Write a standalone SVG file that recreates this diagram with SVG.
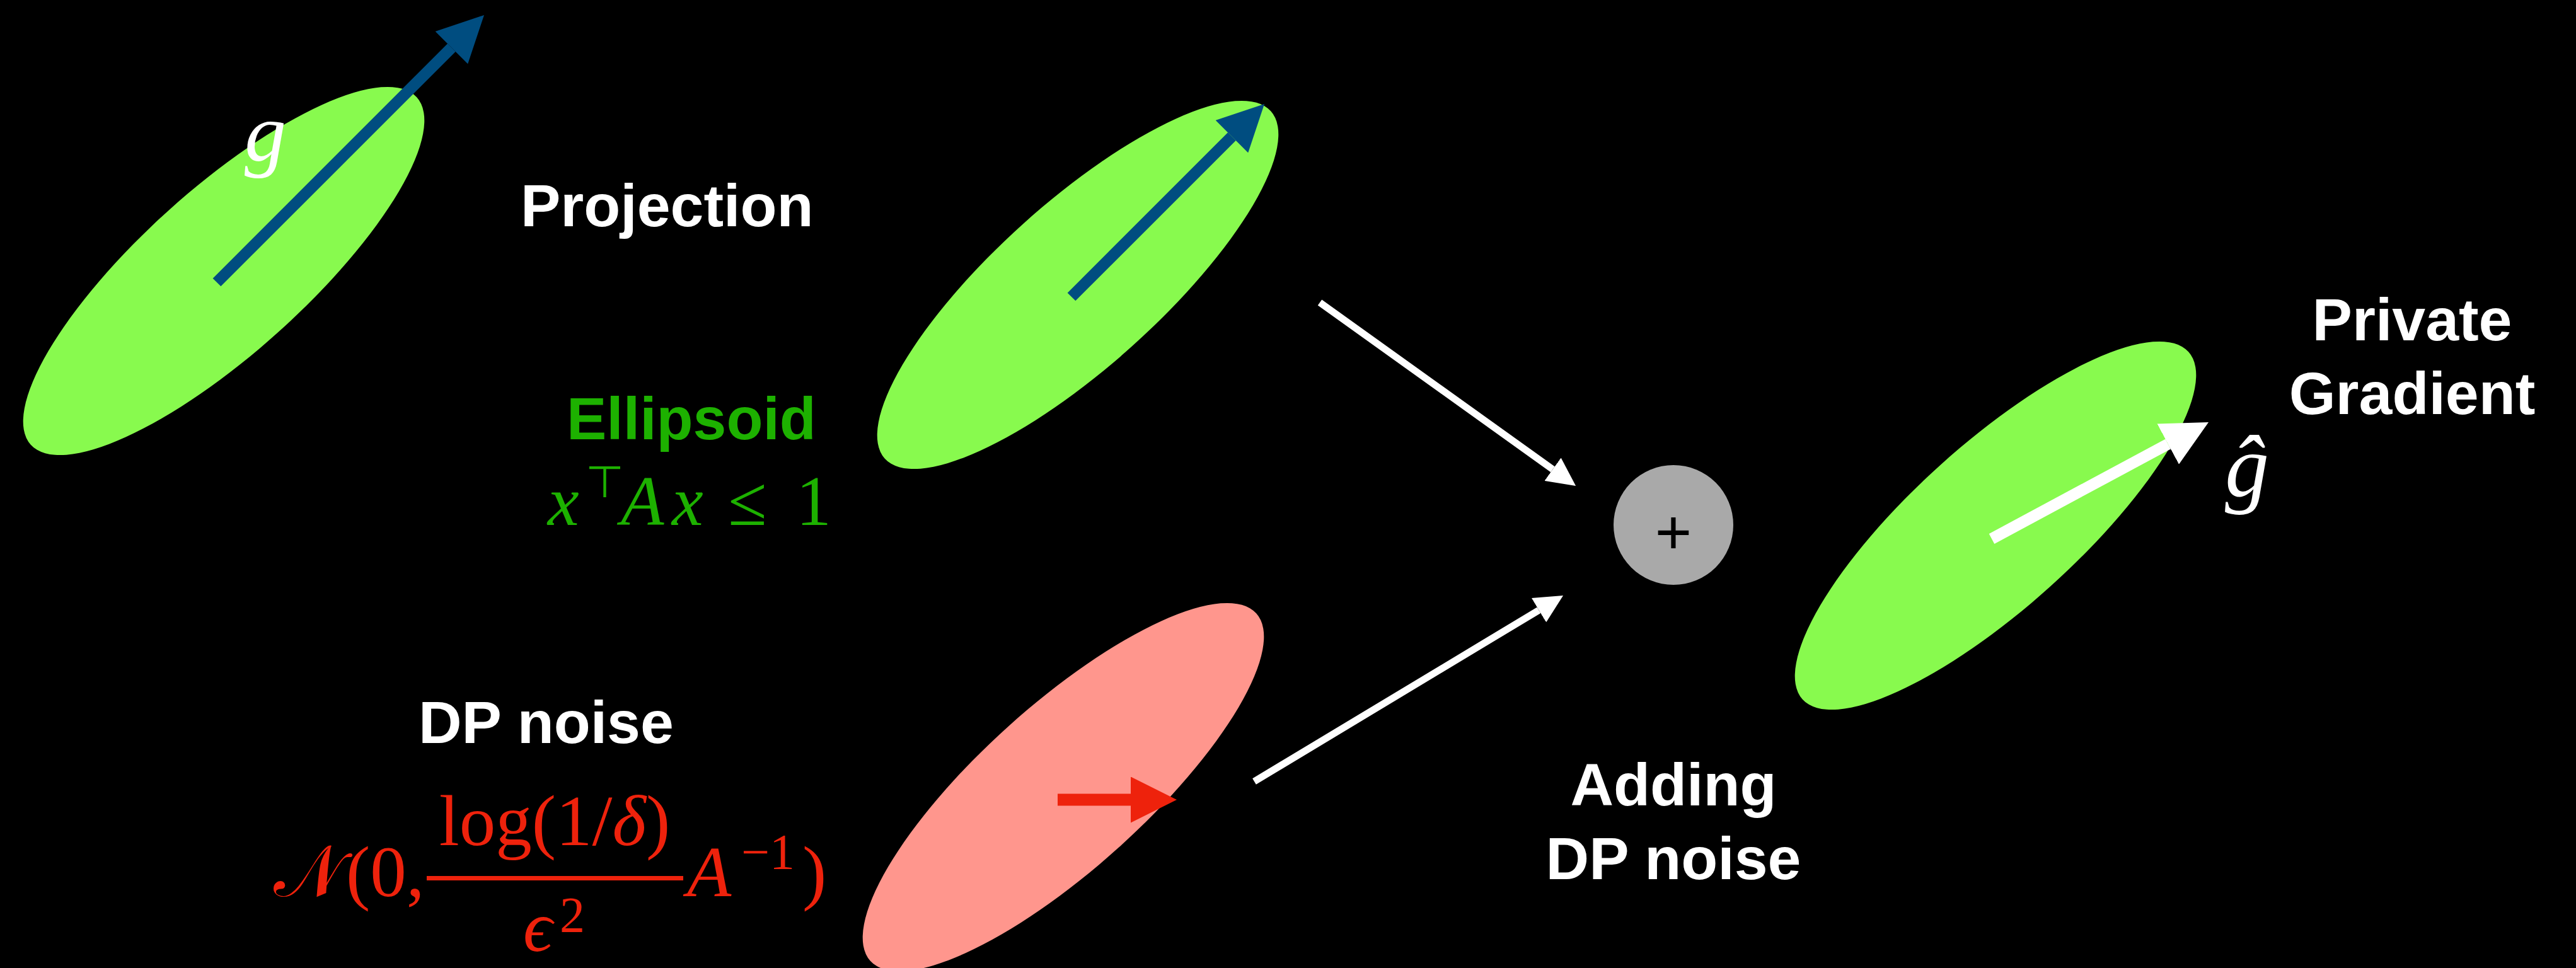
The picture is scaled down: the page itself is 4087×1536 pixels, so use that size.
<svg xmlns="http://www.w3.org/2000/svg" width="4087" height="1536" viewBox="0 0 4087 1536">
<style>
.lbl{font-family:"Liberation Sans",Arial,sans-serif;font-weight:bold;font-size:95px;fill:#FFFFFF}
.math{font-family:"Liberation Serif","DejaVu Serif",serif}
.it{font-style:italic}
.green-fill{fill:#88FA4E}
.red-fill{fill:#FF968D}
.wline{stroke:#FFFFFF;stroke-width:11;fill:none}
.wthick{stroke:#FFFFFF;stroke-width:18;fill:none}
.bline{stroke:#004D80;stroke-width:18;fill:none}
.rline{stroke:#EE220C;stroke-width:19;fill:none}
</style>
<defs>
<marker id="mW" viewBox="0 0 45 45" refX="0" refY="22.5" markerWidth="45" markerHeight="45" markerUnits="userSpaceOnUse" orient="auto"><path d="M0,0 L45,22.5 L0,45 Z" fill="#FFFFFF"/></marker>
<marker id="mWL" viewBox="0 0 73 73" refX="0" refY="36.5" markerWidth="73" markerHeight="73" markerUnits="userSpaceOnUse" orient="auto"><path d="M0,0 L73,36.5 L0,73 Z" fill="#FFFFFF"/></marker>
<marker id="mB" viewBox="0 0 73 73" refX="0" refY="36.5" markerWidth="73" markerHeight="73" markerUnits="userSpaceOnUse" orient="auto"><path d="M0,0 L73,36.5 L0,73 Z" fill="#004D80"/></marker>
<marker id="mR" viewBox="0 0 73 73" refX="0" refY="36.5" markerWidth="73" markerHeight="73" markerUnits="userSpaceOnUse" orient="auto"><path d="M0,0 L73,36.5 L0,73 Z" fill="#EE220C"/></marker>
</defs>
<rect x="0" y="0" width="4087" height="1536" fill="#000000"/>

<g id="gradient-ellipse">
<ellipse class="green-fill" cx="355" cy="430" rx="412" ry="130" transform="rotate(-42 355 430)"/>
<line class="bline" x1="344" y1="448" x2="716.4" y2="75.6" marker-end="url(#mB)"/>
<text class="math it" x="388" y="255" font-size="132" fill="#FFFFFF">g</text>
</g>

<g id="projection-label">
<text class="lbl" x="826" y="359">Projection</text>
</g>

<g id="projected-ellipse">
<ellipse class="green-fill" cx="1710" cy="452" rx="412" ry="130" transform="rotate(-42 1710 452)"/>
<line class="bline" x1="1700" y1="471" x2="1954.4" y2="216.6" marker-end="url(#mB)"/>
</g>

<g id="ellipsoid-label">
<text class="lbl" x="899" y="697" style="fill:#1DB100">Ellipsoid</text>
<g fill="#1DB100" class="math">
<text class="it" x="869" y="833" font-size="112">x</text>
<text x="929" y="789" font-size="70" font-family="DejaVu Sans,sans-serif">⊤</text>
<text class="it" x="985" y="833" font-size="112">A</text>
<text class="it" x="1066" y="833" font-size="112">x</text>
<text x="1155" y="833" font-size="112">≤</text>
<text x="1263" y="833" font-size="112">1</text>
</g>
</g>

<g id="dp-noise-label">
<text class="lbl" x="664" y="1179">DP noise</text>
<g fill="#EE220C" class="math">
<text x="434" y="1422" font-size="115">𝒩</text>
<text x="549" y="1422" font-size="115">(0,</text>
<text x="880" y="1341" font-size="115" text-anchor="middle">log(1/<tspan font-style="italic">δ</tspan>)</text>
<rect x="677" y="1390" width="407" height="7"/>
<text class="it" x="830" y="1509" font-size="115">ϵ</text>
<text x="888" y="1479" font-size="80">2</text>
<text class="it" x="1090" y="1422" font-size="115">A</text>
<text x="1176" y="1379" font-size="80">−1</text>
<text x="1273" y="1422" font-size="115">)</text>
</g>
</g>

<g id="noise-ellipse">
<ellipse class="red-fill" cx="1687" cy="1249" rx="412" ry="130" transform="rotate(-42 1687 1249)"/>
<line class="rline" x1="1678" y1="1269" x2="1794" y2="1269" marker-end="url(#mR)"/>
</g>

<g id="plus-node">
<circle cx="2655" cy="833" r="95" fill="#A9A9A9"/>
<text x="2655" y="879" font-family="Liberation Sans,Arial,sans-serif" font-size="100" text-anchor="middle" fill="#000000">+</text>
</g>

<g id="adding-label">
<text class="lbl" x="2655" y="1278" text-anchor="middle">Adding</text>
<text class="lbl" x="2655" y="1395" text-anchor="middle">DP noise</text>
</g>

<g id="private-ellipse">
<ellipse class="green-fill" cx="3166" cy="834" rx="412" ry="130" transform="rotate(-42 3166 834)"/>
<line class="wthick" x1="3160" y1="855" x2="3439.7" y2="704.6" marker-end="url(#mWL)"/>
<text class="math it" x="3530" y="787" font-size="140" fill="#FFFFFF">ĝ</text>
</g>

<g id="private-label">
<text class="lbl" x="3827" y="540" text-anchor="middle">Private</text>
<text class="lbl" x="3827" y="657" text-anchor="middle">Gradient</text>
</g>

<g id="connectors">
<line class="wline" x1="2094" y1="480" x2="2463.5" y2="744.7" marker-end="url(#mW)"/>
<line class="wline" x1="1990" y1="1240" x2="2441.5" y2="968.2" marker-end="url(#mW)"/>
</g>
</svg>
